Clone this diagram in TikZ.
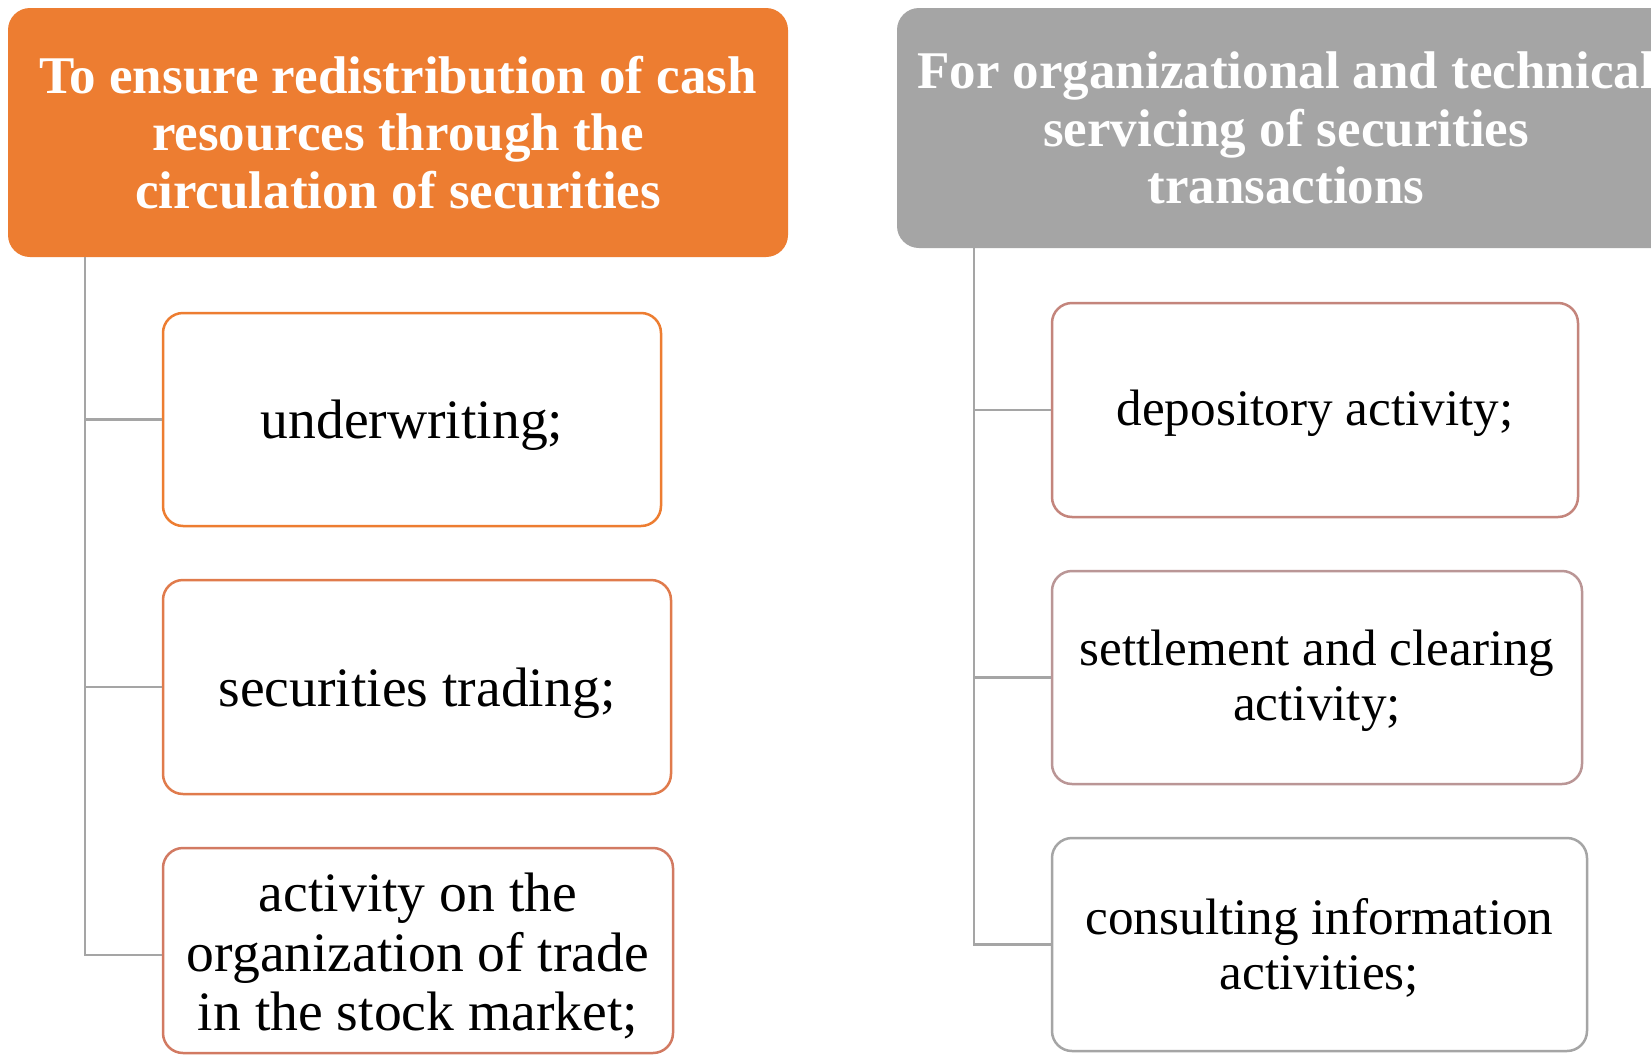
\documentclass[tikz,border=0pt]{standalone}
\usepackage{fontspec}
\setmainfont{Liberation Serif}
\usetikzlibrary{calc}
\definecolor{hdrorange}{HTML}{ED7D31}
\definecolor{hdrgray}{HTML}{A5A5A5}
\definecolor{bcA}{HTML}{ED7D31}
\definecolor{bcB}{HTML}{E07B4C}
\definecolor{bcC}{HTML}{D27A62}
\definecolor{bcD}{HTML}{C4857C}
\definecolor{bcE}{HTML}{BA9696}
\definecolor{bcF}{HTML}{A5A5A5}
\definecolor{connc}{HTML}{A5A5A5}
\newcommand{\topstrutL}{\rule{0pt}{25pt}}
\newcommand{\topstrutR}{\rule{0pt}{21pt}}
\tikzset{
  hdrbox/.style={rectangle, rounded corners=11pt, draw=none, text=white, align=center,
    font=\fontsize{26.5}{28.9}\selectfont\bfseries, inner sep=0pt},
  itembox/.style={rectangle, rounded corners=10pt, draw=#1, fill=white, line width=1.25pt,
    align=center, font=\fontsize{27.8}{29.75}\selectfont, inner sep=0pt},
  itemboxr/.style={itembox=#1, font=\fontsize{25.6}{27.5}\selectfont},
  conn/.style={draw=connc, line width=1.25pt}
}
\begin{document}
\begin{tikzpicture}[x=0.5pt, y=-0.5pt]
\useasboundingbox (0,0) rectangle (1651,1055);
\clip (0,0) rectangle (1651,1055);
\fill[white] (0,0) rectangle (1651,1055);
% headers
\node[hdrbox, fill=hdrorange, minimum width=390pt, minimum height=124.5pt] (h1) at (398,132.5)
  {To ensure redistribution of cash\\resources through the\\circulation of securities};
\node[hdrbox, fill=hdrgray, minimum width=389pt, minimum height=120pt] (h2) at (1286,128)
  {For organizational and technical\\servicing of securities\\transactions};
% left items
\node[itembox=bcA, minimum width=249pt, minimum height=106.5pt] (a1) at (412,419.5) {\topstrutL underwriting;};
\node[itembox=bcB, minimum width=254pt, minimum height=107pt] (a2) at (417,687) {\topstrutL securities trading;};
\node[itembox=bcC, minimum width=255pt, minimum height=102.5pt] (a3) at (418,950.5) {\topstrutL activity on the\\organization of trade\\in the stock market;};
% right items
\node[itemboxr=bcD, minimum width=263pt, minimum height=107pt] (b1) at (1315,410) {\topstrutR depository activity;};
\node[itemboxr=bcE, minimum width=265pt, minimum height=106.5pt] (b2) at (1317,677.5) {\topstrutR settlement and clearing\\activity;};
\node[itemboxr=bcF, minimum width=267.5pt, minimum height=106.5pt] (b3) at (1319.5,944.5) {\topstrutR consulting information\\activities;};
% connectors
\coordinate (t1) at (h1.south -| 85,0);
\coordinate (t2) at (h2.south -| 974,0);
\draw[conn] (t1) |- ($(a3.west)+(0,4.5)$);
\draw[conn] (t1 |- a1.west) -- (a1.west);
\draw[conn] (t1 |- a2.west) -- (a2.west);
\draw[conn] (t2) |- (b3.west);
\draw[conn] (t2 |- b1.west) -- (b1.west);
\draw[conn] (t2 |- b2.west) -- (b2.west);
\end{tikzpicture}
\end{document}
